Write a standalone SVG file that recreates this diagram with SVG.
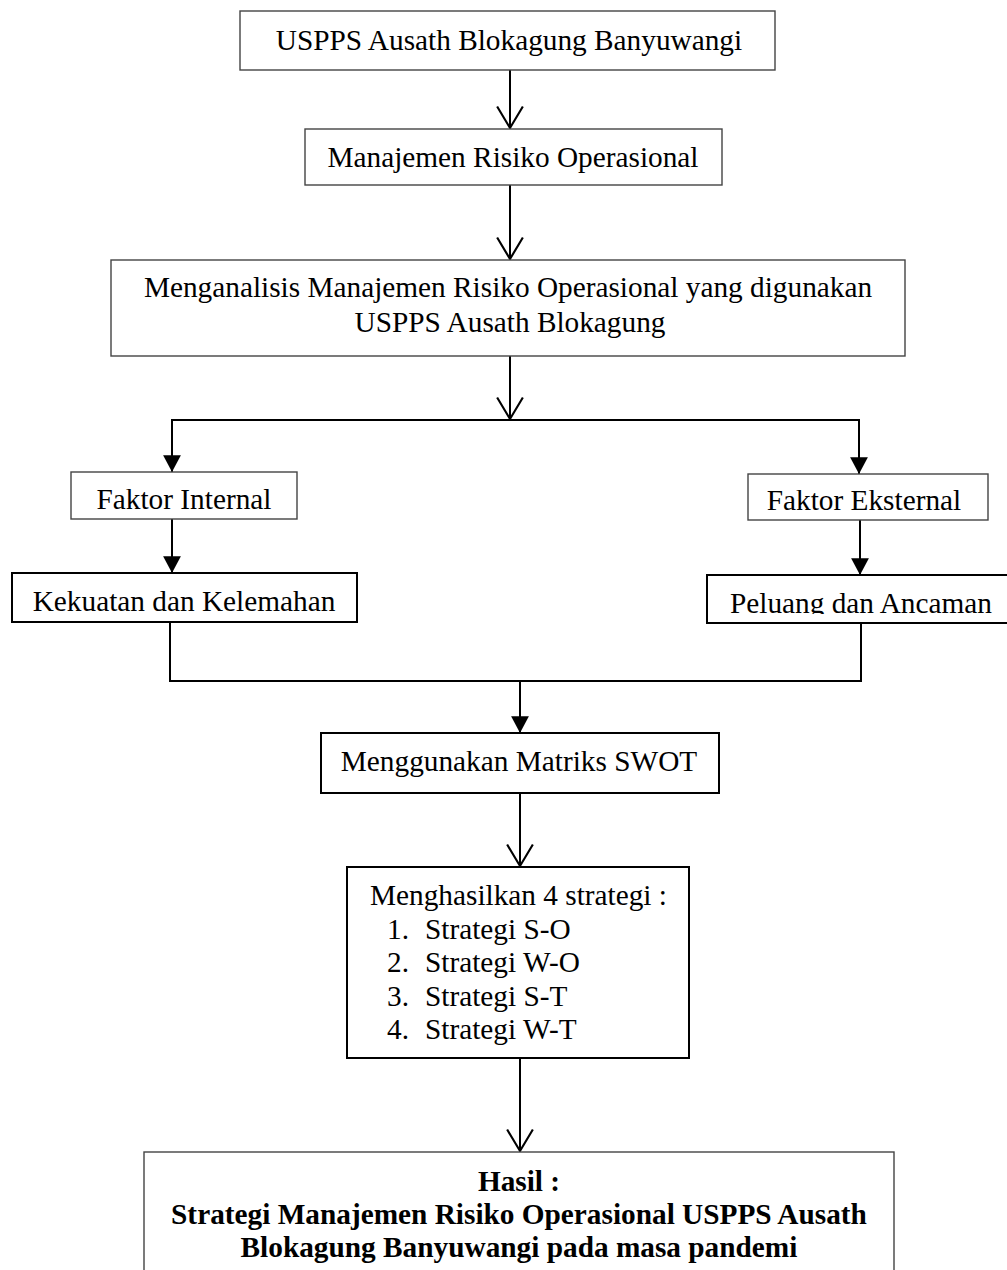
<svg xmlns="http://www.w3.org/2000/svg" width="1007" height="1270" viewBox="0 0 1007 1270">
  <style>
    text { font-family: "Liberation Serif", "Times New Roman", serif; font-size: 29.3px; fill: #000; }
    .c { text-anchor: middle; }
    .b { font-weight: bold; }
    .thin { fill: #fff; stroke: #444; stroke-width: 1.4; }
    .thick { fill: #fff; stroke: #000; stroke-width: 2; }
    .conn { fill: none; stroke: #000; stroke-width: 2; }
  </style>
  <defs>
    <marker id="open" markerUnits="userSpaceOnUse" markerWidth="30" markerHeight="30" viewBox="-22 -14 24 28" refX="0" refY="0" orient="auto" overflow="visible">
      <path d="M-20,-12 L0,0 L-20,12" fill="none" stroke="#000" stroke-width="2"/>
    </marker>
    <marker id="fill" markerUnits="userSpaceOnUse" markerWidth="20" markerHeight="20" viewBox="-16 -9 17 18" refX="0" refY="0" orient="auto" overflow="visible">
      <path d="M-15,-8 L0,0 L-15,8 Z" fill="#000"/>
    </marker>
    <clipPath id="clipPA">
      <rect x="700" y="570" width="320" height="44"/>
    </clipPath>
  </defs>
  <rect width="1007" height="1270" fill="#fff"/>

  <g id="connectors">
    <line class="conn" x1="510" y1="70" x2="510" y2="128" marker-end="url(#open)"/>
    <line class="conn" x1="510" y1="185" x2="510" y2="259" marker-end="url(#open)"/>
    <line class="conn" x1="510" y1="356" x2="510" y2="419" marker-end="url(#open)"/>
    <polyline class="conn" points="172,472 172,420 859,420 859,474"/>
    <line class="conn" x1="172" y1="440" x2="172" y2="472" marker-end="url(#fill)"/>
    <line class="conn" x1="859" y1="440" x2="859" y2="474" marker-end="url(#fill)"/>
    <line class="conn" x1="172" y1="519" x2="172" y2="573" marker-end="url(#fill)"/>
    <line class="conn" x1="860" y1="520" x2="860" y2="575" marker-end="url(#fill)"/>
    <polyline class="conn" points="170,622 170,681 861,681 861,623"/>
    <line class="conn" x1="520" y1="681" x2="520" y2="733" marker-end="url(#fill)"/>
    <line class="conn" x1="520" y1="793" x2="520" y2="866" marker-end="url(#open)"/>
    <line class="conn" x1="520" y1="1058" x2="520" y2="1151" marker-end="url(#open)"/>
  </g>

  <g id="n-uspps">
    <rect class="thin" x="240" y="11" width="535" height="59"/>
    <text class="c" x="509" y="50">USPPS Ausath Blokagung Banyuwangi</text>
  </g>
  <g id="n-manajemen">
    <rect class="thin" x="305" y="129" width="417" height="56"/>
    <text class="c" x="513" y="167">Manajemen Risiko Operasional</text>
  </g>
  <g id="n-menganalisis">
    <rect class="thin" x="111" y="260" width="794" height="96"/>
    <text class="c" x="508" y="297">Menganalisis Manajemen Risiko Operasional yang digunakan</text>
    <text class="c" x="510" y="332">USPPS Ausath Blokagung</text>
  </g>
  <g id="n-faktor-internal">
    <rect class="thin" x="71" y="472" width="226" height="47"/>
    <text class="c" x="184" y="509">Faktor Internal</text>
  </g>
  <g id="n-kekuatan">
    <rect class="thick" x="12" y="573" width="345" height="49"/>
    <text class="c" x="184" y="611">Kekuatan dan Kelemahan</text>
  </g>
  <g id="n-faktor-eksternal">
    <rect class="thin" x="748" y="474" width="240" height="46"/>
    <text class="c" x="864" y="510">Faktor Eksternal</text>
  </g>
  <g id="n-peluang">
    <rect class="thick" x="707" y="575" width="310" height="48"/>
    <text class="c" x="861" y="613" clip-path="url(#clipPA)">Peluang dan Ancaman</text>
  </g>
  <g id="n-swot">
    <rect class="thick" x="321" y="733" width="398" height="60"/>
    <text class="c" x="519" y="771">Menggunakan Matriks SWOT</text>
  </g>
  <g id="n-strategi">
    <rect class="thick" x="347" y="867" width="342" height="191"/>
    <text x="370" y="905">Menghasilkan 4 strategi :</text>
    <text x="387" y="938.5">1.</text><text x="425" y="938.5">Strategi S-O</text>
    <text x="387" y="972">2.</text><text x="425" y="972">Strategi W-O</text>
    <text x="387" y="1005.5">3.</text><text x="425" y="1005.5">Strategi S-T</text>
    <text x="387" y="1039">4.</text><text x="425" y="1039">Strategi W-T</text>
  </g>
  <g id="n-hasil">
    <rect class="thin" x="144" y="1152" width="750" height="130"/>
    <text class="c b" x="519" y="1191">Hasil :</text>
    <text class="c b" x="519" y="1224">Strategi Manajemen Risiko Operasional USPPS Ausath</text>
    <text class="c b" x="519" y="1257">Blokagung Banyuwangi pada masa pandemi</text>
  </g>
</svg>
